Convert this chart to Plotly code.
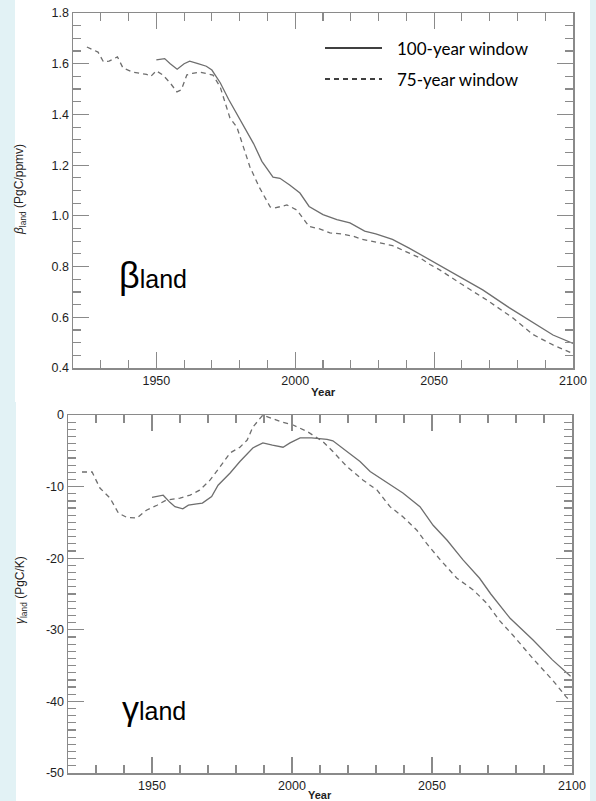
import plotly.graph_objects as go

W, H = 596, 801

# ---- data: beta_land (PgC/ppmv) ----
beta100_year = [1950, 1953, 1955, 1957.5, 1960, 1962, 1965, 1968, 1970, 1973, 1976, 1978, 1982, 1985,
                1988, 1990, 1992, 1994.5, 1998, 2001.7, 2005, 2010, 2015, 2019.7, 2025, 2029, 2035,
                2041, 2049.5, 2060, 2067.5, 2077, 2085.5, 2092.8, 2100]
beta100_val = [1.615, 1.62, 1.60, 1.578, 1.60, 1.61, 1.60, 1.59, 1.575, 1.525, 1.46, 1.42, 1.34, 1.285,
               1.215, 1.185, 1.153, 1.148, 1.122, 1.09, 1.037, 1.005, 0.985, 0.972, 0.94, 0.929, 0.907,
               0.873, 0.82, 0.757, 0.708, 0.638, 0.578, 0.53, 0.497]

beta75_year = [1925, 1929, 1931, 1933, 1936, 1938, 1941.5, 1946.5, 1948, 1950, 1952.4, 1955, 1957.4,
               1959, 1961, 1963, 1965.7, 1968, 1970.4, 1973, 1976.5, 1979, 1981, 1983.7, 1987, 1991,
               1992.7, 1997, 2000.6, 2002.8, 2005, 2009, 2012.5, 2017, 2020.8, 2024, 2029, 2035, 2040,
               2045, 2048.5, 2052, 2060.4, 2069, 2078.4, 2085.6, 2092.8, 2099.6]
beta75_val = [1.666, 1.646, 1.607, 1.61, 1.627, 1.583, 1.567, 1.558, 1.55, 1.572, 1.555, 1.524, 1.489,
              1.497, 1.556, 1.562, 1.567, 1.56, 1.555, 1.508, 1.386, 1.35, 1.28, 1.193, 1.114, 1.035,
              1.031, 1.043, 1.023, 0.992, 0.958, 0.948, 0.933, 0.928, 0.92, 0.908, 0.897, 0.883, 0.858,
              0.834, 0.808, 0.787, 0.727, 0.668, 0.597, 0.532, 0.491, 0.459]

# ---- data: gamma_land (PgC/K) ----
gamma100_year = [1950, 1954, 1956.4, 1958.2, 1961, 1963, 1966, 1968, 1971.3, 1973.6, 1977.9, 1981.4,
                 1986, 1989.6, 1993, 1996.8, 1999.3, 2002.9, 2007, 2012.5, 2014.6, 2019.6, 2024.3,
                 2027.9, 2033.9, 2039.6, 2045.7, 2050.4, 2055.4, 2061, 2067, 2071, 2077.9, 2086, 2093,
                 2099.5]
gamma100_val = [-11.5, -11.2, -12.2, -12.8, -13.1, -12.6, -12.4, -12.3, -11.4, -9.8, -8.1, -6.5,
                -4.6, -3.9, -4.2, -4.5, -3.9, -3.2, -3.2, -3.4, -3.6, -5.1, -6.5,
                -7.9, -9.5, -10.9, -12.8, -15.4, -17.5, -20.2, -22.8, -25.0, -28.4, -31.4, -34.2,
                -36.5]

gamma75_year = [1925, 1928.6, 1931.4, 1935, 1938, 1941, 1944.6, 1948, 1951.8, 1955, 1960, 1963.6,
                1967, 1970.7, 1974, 1977.9, 1981.4, 1984, 1986, 1988.6, 1989.6, 1995.7, 2000.4,
                2005.4, 2008, 2011, 2014.6, 2019.6, 2025.4, 2030.4, 2035, 2039.6, 2044.6, 2048,
                2052.9, 2058.9, 2064.6, 2069.6, 2074.3, 2079, 2086, 2093, 2098, 2099.5]
gamma75_val = [-7.96, -7.96, -10.2, -11.6, -13.7, -14.3, -14.4, -13.3, -12.6, -11.9, -11.6, -11.2,
               -10.5, -9.1, -7.4, -5.3, -4.5, -3.5, -1.7, -0.4, 0.0, -0.9, -1.4,
               -2.3, -2.9, -3.7, -5.1, -7.2, -9.1, -10.5, -12.8, -14.2, -16.1, -17.9,
               -20.2, -22.8, -24.4, -26.3, -28.8, -30.8, -34.0, -37.0, -39.4, -40.0]

# ---- ticks and labels ----
year_ticks = [1950, 2000, 2050, 2100]
year_labels = ["1950", "2000", "2050", "2100"]
beta_ticks = [0.4, 0.6, 0.8, 1.0, 1.2, 1.4, 1.6, 1.8]
beta_labels = ["0.4", "0.6", "0.8", "1.0", "1.2", "1.4", "1.6", "1.8"]
gamma_ticks = [-50, -40, -30, -20, -10, 0]
gamma_labels = ["-50", "-40", "-30", "-20", "-10", "0"]
legend_labels = ["100-year window", "75-year window"]

LINE = "#6e6e6e"
AX = "#8a8a8a"
TXT = "#1e1e1e"
FONT = "Liberation Sans, Arial, sans-serif"

def px(x):
    return x / W

def py(y):
    return 1 - y / H

fig = go.Figure()
fig.add_trace(go.Scatter(x=beta100_year, y=beta100_val, mode="lines", line=dict(color=LINE, width=1.3),
                         xaxis="x", yaxis="y", showlegend=False))
fig.add_trace(go.Scatter(x=beta75_year, y=beta75_val, mode="lines",
                         line=dict(color=LINE, width=1.3, dash="5px,4px"),
                         xaxis="x", yaxis="y", showlegend=False))
fig.add_trace(go.Scatter(x=gamma100_year, y=gamma100_val, mode="lines", line=dict(color=LINE, width=1.3),
                         xaxis="x2", yaxis="y2", showlegend=False))
fig.add_trace(go.Scatter(x=gamma75_year, y=gamma75_val, mode="lines",
                         line=dict(color=LINE, width=1.3, dash="5px,4px"),
                         xaxis="x2", yaxis="y2", showlegend=False))

def common():
    return dict(ticks="inside", ticklen=16, tickwidth=1.2, tickcolor=AX,
                showline=True, linecolor=AX, linewidth=1.5, mirror="allticks",
                showgrid=False, zeroline=False, automargin=False,
                tickfont=dict(family=FONT, size=12.5, color=TXT))

def xax(domain, anchor):
    d = common()
    d.update(domain=domain, anchor=anchor, range=[1920, 2100],
             tickmode="array", tickvals=year_ticks, ticktext=year_labels,
             minor=dict(dtick=10, tick0=1900, ticks="inside", ticklen=8, tickcolor=AX, tickwidth=1.2))
    return d

def yax(domain, anchor, rng, tv, tt, mdtick):
    d = common()
    d.update(domain=domain, anchor=anchor, range=rng,
             tickmode="array", tickvals=tv, ticktext=tt,
             minor=dict(dtick=mdtick, tick0=0, ticks="inside", ticklen=8, tickcolor=AX, tickwidth=1.2))
    return d

fig.update_layout(
    template="none",
    width=W, height=H,
    margin=dict(l=0, r=0, t=0, b=0, pad=0),
    paper_bgcolor="white", plot_bgcolor="white",
    showlegend=False,
    xaxis=xax([px(73), px(573)], "y"),
    yaxis=yax([py(368), py(13)], "x", [0.4, 1.8], beta_ticks, beta_labels, 0.05),
    xaxis2=xax([px(68), px(572)], "y2"),
    yaxis2=yax([py(773), py(415)], "x2", [-50, 0], gamma_ticks, gamma_labels, 1),
)

shapes = [
    dict(type="rect", xref="paper", yref="paper", x0=0, x1=px(15), y0=py(402), y1=1,
         fillcolor="#e2f2f5", line=dict(width=0), layer="below"),
    dict(type="rect", xref="paper", yref="paper", x0=0, x1=px(16), y0=0, y1=py(402),
         fillcolor="#e2f2f5", line=dict(width=0), layer="below"),
    dict(type="rect", xref="paper", yref="paper", x0=px(590), x1=1, y0=0, y1=1,
         fillcolor="#e2f2f5", line=dict(width=0), layer="below"),
    dict(type="line", xref="paper", yref="paper", x0=px(325), x1=px(382), y0=py(48), y1=py(48),
         line=dict(color="black", width=1.6)),
    dict(type="line", xref="paper", yref="paper", x0=px(325), x1=px(382), y0=py(79), y1=py(79),
         line=dict(color="black", width=1.6, dash="5px,4px")),
]
fig.update_layout(shapes=shapes)

def note(x, y, text, size, family=FONT, xanchor="left", angle=0, color="black"):
    return dict(xref="paper", yref="paper", x=px(x), y=py(y), xanchor=xanchor, yanchor="middle",
                text=text, showarrow=False, textangle=angle,
                font=dict(family=family, size=size, color=color))

annotations = [
    note(395, 48, legend_labels[0], 17, family="Lato, sans-serif"),
    note(395, 79, legend_labels[1], 17, family="Lato, sans-serif"),
    note(117, 276, "<span style='font-size:36px'>β</span><span style='font-size:25px'>land</span>", 25),
    note(120, 708, "<span style='font-size:34px'>γ</span><span style='font-size:25px'>land</span>", 25),
    note(20, 190, "<i>β</i><sub>land</sub> (PgC/ppmv)", 12, xanchor="center", angle=-90, color=TXT),
    note(21, 590, "<i>γ</i><sub>land</sub> (PgC/K)", 12, xanchor="center", angle=-90, color=TXT),
    note(323, 392, "<b>Year</b>", 11.5, xanchor="center", color=TXT),
    note(320, 795, "<b>Year</b>", 11, xanchor="center", color=TXT),
]
fig.update_layout(annotations=annotations)

fig.write_html("out.html",
               config={"displayModeBar": False, "staticPlot": True},
               post_script="document.body.style.margin='0';document.body.style.overflow='hidden';")
